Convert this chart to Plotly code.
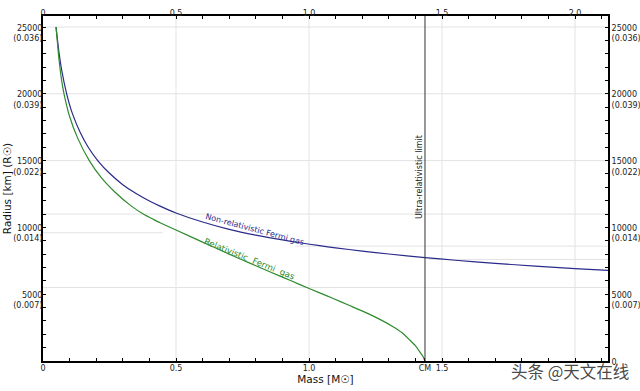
import plotly.graph_objects as go

# ---- data ----
mass_nonrel = [0.049, 0.06, 0.07, 0.089, 0.11, 0.14, 0.17, 0.208, 0.25, 0.3, 0.35, 0.4, 0.44,
               0.5, 0.6, 0.7, 0.8, 0.9, 0.966, 1.04, 1.1, 1.2, 1.3, 1.436, 1.55, 1.7, 1.85, 2.0, 2.13]
radius_nonrel = [25000, 23100, 21800, 20000, 18550, 17100, 16000, 14950, 14050, 13200, 12530, 11970, 11590,
                 11080, 10400, 9850, 9420, 9060, 8850, 8630, 8470, 8230, 8010, 7740, 7540, 7310, 7100, 6920, 6775]

mass_rel = [0.049, 0.06, 0.07, 0.079, 0.1, 0.13, 0.174, 0.22, 0.27, 0.33, 0.38, 0.415, 0.44, 0.5,
            0.6, 0.7, 0.75, 0.8, 0.9, 0.966, 1.04, 1.091, 1.15, 1.216, 1.27, 1.316, 1.35, 1.379,
            1.4, 1.416, 1.428, 1.436]
radius_rel = [25000, 22600, 21000, 20000, 18300, 16700, 15000, 13700, 12650, 11630, 10960, 10600, 10350, 9800,
              8900, 8000, 7560, 7130, 6280, 5720, 5100, 4680, 4170, 3600, 3080, 2570, 2120, 1570,
              1150, 700, 350, 0]

chandrasekhar_mass = 1.436

# bottom "2.0" is hidden under the watermark in the reference
x_bottom_vals = [0, 0.5, 1.0, chandrasekhar_mass, 1.5, 2.0]
x_bottom_text = ["0", "0.5", "1.0", "CM", "1.5", ""]
x_top_vals = [0, 0.5, 1.0, 1.5, 2.0]
x_top_text = ["0", "0.5", "1.0", "1.5", "2.0"]

y_left_vals = [5000, 10000, 15000, 20000, 25000]
y_left_text = ["5000<br>(0.007)", "10000<br>(0.014)", "15000<br>(0.022)",
               "20000<br>(0.039)", "25000<br>(0.036)"]
y_right_vals = [0, 5000, 10000, 15000, 20000, 25000]
y_right_text = ["0<br>\u00a0"] + y_left_text

grid_full = [5500, 11000, 15000, 20000, 25000]
grid_partial = [(9600, 0.0, 0.45), (8600, 0.95, 2.124), (7600, 1.45, 2.124)]

X_MAX = 2.124
Y_MAX = 25823

BLUE = "#2a2a8a"
GREEN = "#2e8b2e"
FONT = "DejaVu Sans"
TICKFONT = dict(family=FONT, size=8, color="#222222")

fig = go.Figure()

fig.add_trace(go.Scatter(x=mass_nonrel, y=radius_nonrel, mode="lines",
                         line=dict(color=BLUE, width=1.2, shape="spline", smoothing=0.5),
                         showlegend=False, hoverinfo="skip"))
fig.add_trace(go.Scatter(x=mass_rel, y=radius_rel, mode="lines",
                         line=dict(color=GREEN, width=1.2, shape="spline", smoothing=0.5),
                         showlegend=False, hoverinfo="skip"))
# invisible trace to activate top / right axes
fig.add_trace(go.Scatter(x=[0], y=[0], xaxis="x2", yaxis="y2", mode="markers",
                         marker=dict(opacity=0), showlegend=False, hoverinfo="skip"))

shapes = []
grid_color = "#e3e3e3"
for g in grid_full:
    shapes.append(dict(type="line", xref="x", yref="y", x0=0, x1=X_MAX, y0=g, y1=g,
                       line=dict(color=grid_color, width=1), layer="below"))
for g, a, b in grid_partial:
    shapes.append(dict(type="line", xref="x", yref="y", x0=a, x1=b, y0=g, y1=g,
                       line=dict(color=grid_color, width=1), layer="below"))
for v in [0.5, 1.0, 1.5, 2.0]:
    shapes.append(dict(type="line", xref="x", yref="y", x0=v, x1=v, y0=0, y1=Y_MAX,
                       line=dict(color=grid_color, width=1), layer="below"))
shapes.append(dict(type="line", xref="x", yref="y", x0=chandrasekhar_mass, x1=chandrasekhar_mass,
                   y0=0, y1=Y_MAX, line=dict(color="#333333", width=1)))

annotations = [
    dict(x=chandrasekhar_mass, y=13770, xref="x", yref="y", text="Ultra-relativistic limit",
         textangle=-90, showarrow=False, xshift=-6,
         font=dict(family=FONT, size=8, color="#222222")),
    dict(x=0.796, y=9880, xref="x", yref="y", text="Non-relativistic Fermi gas",
         textangle=15, showarrow=False, font=dict(family=FONT, size=8, color=BLUE)),
    dict(x=0.778, y=7635, xref="x", yref="y", text="Relativistic  Fermi  gas",
         textangle=22, showarrow=False, font=dict(family=FONT, size=8.6, color=GREEN)),
    dict(x=0.932, y=-0.03, xref="paper", yref="paper", xanchor="center", yanchor="middle",
         text="头条 @天文在线", showarrow=False, borderpad=0,
         font=dict(family="Noto Sans CJK SC", size=16.5, color="rgba(50,50,50,0.9)")),
]

common_x = dict(range=[0, X_MAX], showgrid=False, zeroline=False, showline=True, automargin=False,
                linecolor="black", linewidth=2, ticks="inside", ticklen=3, tickcolor="black",
                tickfont=TICKFONT, tickmode="array",
                minor=dict(tickmode="linear", tick0=0, dtick=0.1, ticks="inside", ticklen=3,
                           tickcolor="black", showgrid=False))
common_y = dict(range=[0, Y_MAX], showgrid=False, zeroline=False, showline=True, automargin=False,
                linecolor="black", linewidth=2, ticks="inside", ticklen=3, tickcolor="black",
                tickfont=TICKFONT, tickmode="array", ticklabelshift=6,
                minor=dict(tickmode="linear", tick0=0, dtick=1000, ticks="inside", ticklen=3,
                           tickcolor="black", showgrid=False))

fig.update_layout(
    width=640, height=391,
    margin=dict(l=43, r=32, t=16, b=30, autoexpand=False),
    paper_bgcolor="white", plot_bgcolor="white",
    font=dict(family=FONT, color="#222222"),
    xaxis=dict(**common_x, tickvals=x_bottom_vals, ticktext=x_bottom_text, ticklabelstandoff=-2,
               title=dict(text="Mass [M☉]", font=dict(family=FONT, size=10.5, color="#111111"),
                          standoff=0)),
    xaxis2=dict(**common_x, tickvals=x_top_vals, ticktext=x_top_text,
                overlaying="x", side="top", anchor="y", ticklabelstandoff=-5),
    yaxis=dict(**common_y, tickvals=y_left_vals, ticktext=y_left_text, ticklabelstandoff=-3,
               title=dict(text="Radius [km] (R☉)", font=dict(family=FONT, size=10.5, color="#111111"),
                          standoff=0)),
    yaxis2=dict(**common_y, tickvals=y_right_vals, ticktext=y_right_text,
                overlaying="y", side="right", anchor="x"),
    shapes=shapes,
    annotations=annotations,
)

fig.write_html("out.html", config={"displayModeBar": False},
               post_script="document.body.style.margin='0';")
